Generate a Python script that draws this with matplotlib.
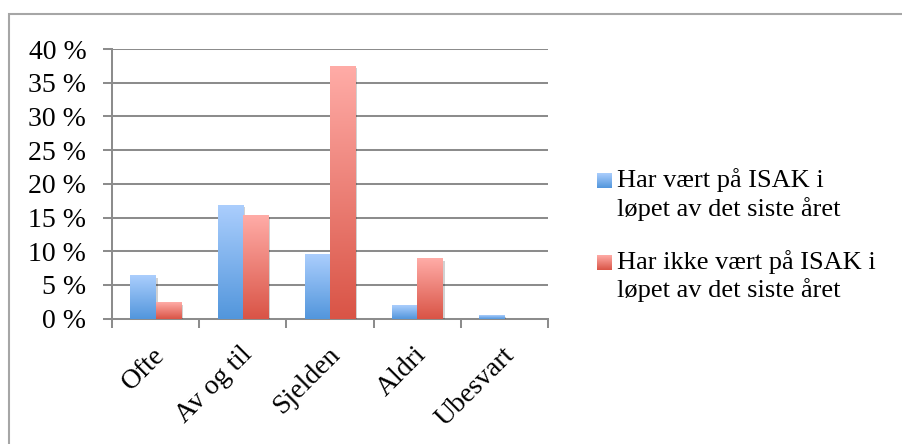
import numpy as np
import matplotlib
matplotlib.use("Agg")
import matplotlib.pyplot as plt
import matplotlib.patheffects as pe
from matplotlib.transforms import ScaledTranslation
from matplotlib.patches import Rectangle

# data
categories = ["Ofte", "Av og til", "Sjelden", "Aldri", "Ubesvart"]
har_vaert = [6.4, 16.9, 9.5, 2.0, 0.5]
har_ikke_vaert = [2.4, 15.4, 37.5, 8.9, 0.0]
series_labels = ["Har vært på ISAK i\nløpet av det siste året",
                 "Har ikke vært på ISAK i\nløpet av det siste året"]
y_ticks = [0, 5, 10, 15, 20, 25, 30, 35, 40]

plt.rcParams['font.family'] = ['Liberation Serif', 'DejaVu Serif']

blue_top, blue_bot = "#abcefd", "#5296dc"
red_top, red_bot = "#ffaca7", "#d95446"
grid_col = "#8c8c8c"
lw = 1.45


def gradient(top, bot, n=256):
    c1 = np.array(matplotlib.colors.to_rgb(top))
    c2 = np.array(matplotlib.colors.to_rgb(bot))
    t = np.linspace(0, 1, n)[:, None]
    return (c1 * (1 - t) + c2 * t)[:, None, :]


fig = plt.figure(figsize=(9.02, 4.44), dpi=100)
fig.patches.append(Rectangle((9 / 902, -0.1), 2, 1.1 - 14 / 444, transform=fig.transFigure,
                             fill=False, edgecolor="#a6a6a6", linewidth=1.5))

ax = fig.add_axes([112 / 902, 125.3 / 444, 436 / 902, 269.7 / 444])

x = np.arange(len(categories))
w = 0.29
for vals, off, (top, bot) in [(har_vaert, -w / 2, (blue_top, blue_bot)),
                              (har_ikke_vaert, w / 2, (red_top, red_bot))]:
    bars = ax.bar(x + off, vals, width=w, color="white", linewidth=0, zorder=3,
                  path_effects=[pe.SimplePatchShadow(offset=(1.5, -1.5), shadow_rgbFace="#000000", alpha=0.18),
                                pe.Normal()])
    for b in bars:
        h = b.get_height()
        if h <= 0:
            continue
        ax.imshow(gradient(top, bot), extent=(b.get_x(), b.get_x() + b.get_width(), 0, h),
                  aspect="auto", zorder=4, interpolation="bilinear")

ax.set_xlim(-0.5, len(categories) - 0.5)
ax.set_ylim(0, 40)
ax.set_yticks(y_ticks)
ax.set_yticklabels([f"{t} %" for t in y_ticks], fontsize=20)
ax.yaxis.grid(True, color=grid_col, linewidth=lw)
ax.set_axisbelow(True)

ax.set_xticks(x)
ax.set_xticklabels(categories, fontsize=20, rotation=45, ha="right", rotation_mode="anchor")
ax.set_xticks(np.arange(len(categories) + 1) - 0.5, minor=True)
ax.tick_params(axis="x", which="major", length=0, pad=17)
ax.tick_params(axis="x", which="minor", length=6.5, width=lw, color=grid_col)
ax.tick_params(axis="y", length=6.5, width=lw, color=grid_col, pad=12)
for lab in ax.get_xticklabels():
    lab.set_transform(lab.get_transform() + ScaledTranslation(-0.03, 0, fig.dpi_scale_trans))

for s in ["top", "right"]:
    ax.spines[s].set_visible(False)
for s in ["left", "bottom"]:
    ax.spines[s].set_color(grid_col)
    ax.spines[s].set_linewidth(lw)

# legend drawn by hand so the marker sits beside the first line
leg_base = [187, 269]
for lbl, (top, bot), yb in zip(series_labels, [(blue_top, blue_bot), (red_top, red_bot)], leg_base):
    sq = fig.add_axes([597 / 902, (444 - yb - 1) / 444, 15 / 902, 15 / 444])
    sq.imshow(gradient(top, bot), aspect="auto", interpolation="bilinear")
    sq.axis("off")
    for i, line in enumerate(lbl.split("\n")):
        fig.text(617 / 902, (444 - yb - 28.5 * i) / 444, line, fontsize=19,
                 va="baseline", ha="left")

fig.savefig("out.png", dpi=100)
